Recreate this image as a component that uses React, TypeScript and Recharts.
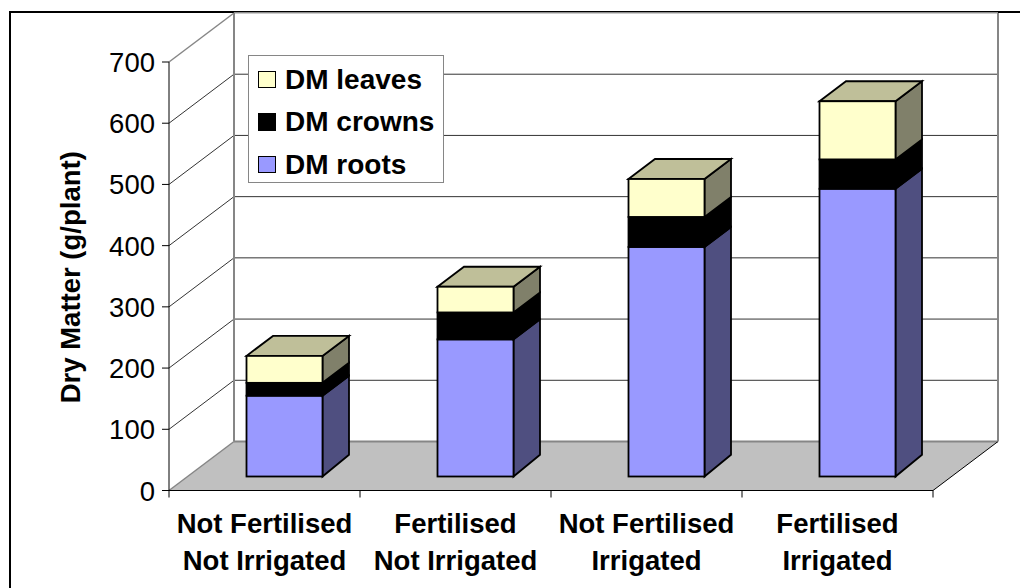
import React from 'react';
import { BarChart, Bar, XAxis, YAxis, CartesianGrid, Legend } from 'recharts';

const fertiliserLabels = ['Not Fertilised', 'Fertilised', 'Not Fertilised', 'Fertilised'];
const irrigationLabels = ['Not Irrigated', 'Not Irrigated', 'Irrigated', 'Irrigated'];
const dmRoots = [132, 224, 375, 470];
const dmCrowns = [21, 44, 49, 48];
const dmLeaves = [44, 42, 62, 95];
const yTicks = [0, 100, 200, 300, 400, 500, 600, 700];

const data = fertiliserLabels.map((f, i) => ({
  key: `${f}|${irrigationLabels[i]}`,
  fert: f,
  irr: irrigationLabels[i],
  roots: dmRoots[i],
  crowns: dmCrowns[i],
  leaves: dmLeaves[i],
}));

const FONT = '"Liberation Sans", Arial, sans-serif';
const FS = 27.5;
// projection of the chart's depth
const WALL_DX = 65;
const WALL_DY = 49;
const BAR_DX = 19.5;
const BAR_DY = 14;
const DEPTH_DX = 26.5;
const DEPTH_DY = 20;
const BASE_DEPTH_DY = 21.7;
const GRAY = '#868686';
const GRID = '#333333';
const M = { top: 62, right: 87, bottom: 0, left: 0 };
const W = 1020;
const H = 588;
const HALF_BAND = 95.5;

function GridLine(props: any) {
  const { x1, x2, y1, index } = props;
  const isBottom = Math.abs(y1 - 490.5) < 1;
  const isTop = Math.abs(y1 - M.top) < 1;
  const bx1 = x1 + WALL_DX;
  const bx2 = x2 + WALL_DX;
  const by = y1 - WALL_DY;
  if (isBottom) {
    return (
      <g key={`g${index}`}>
        <polygon points={`${x1},${y1} ${bx1},${by} ${bx2},${by} ${x2},${y1}`} fill="#C0C0C0" stroke="none" />
        <line x1={x1} y1={y1} x2={bx1} y2={by} stroke={GRAY} strokeWidth={1.5} />
        <line x1={bx1} y1={by} x2={bx2} y2={by} stroke={GRAY} strokeWidth={2} />
        <line x1={x2} y1={y1} x2={bx2} y2={by} stroke="#000" strokeWidth={1} />
      </g>
    );
  }
  if (isTop) {
    const floorY = 490.5 - WALL_DY;
    return (
      <g key={`g${index}`}>
        <line x1={x1} y1={y1} x2={bx1} y2={by} stroke={GRAY} strokeWidth={1.5} />
        <line x1={bx1} y1={by} x2={bx2} y2={by} stroke="#BBBBBB" strokeWidth={1.5} />
        <line x1={bx1} y1={by} x2={bx1} y2={floorY} stroke={GRAY} strokeWidth={2} />
        <line x1={bx2} y1={by} x2={bx2} y2={floorY} stroke={GRAY} strokeWidth={2} />
      </g>
    );
  }
  return (
    <g key={`g${index}`}>
      <polyline points={`${x1},${y1} ${bx1},${by} ${bx2},${by}`} fill="none" stroke={GRID} strokeWidth={1} />
    </g>
  );
}

const makeBox = (front: string, side: string, top?: string, base?: boolean) => (props: any) => {
  const { x, y, width, height } = props;
  const fx = x + BAR_DX;
  const fy = y - BAR_DY;
  const r = fx + width;
  const b = fy + height;
  const baseDy = base ? BASE_DEPTH_DY : DEPTH_DY;
  return (
    <g stroke="#000" strokeWidth={1.8} strokeLinejoin="miter">
      <polygon points={`${r},${fy} ${r + DEPTH_DX},${fy - DEPTH_DY} ${r + DEPTH_DX},${b - baseDy} ${r},${b}`} fill={side} />
      {top && (
        <polygon points={`${fx},${fy} ${fx + DEPTH_DX},${fy - DEPTH_DY} ${r + DEPTH_DX},${fy - DEPTH_DY} ${r},${fy}`} fill={top} />
      )}
      <rect x={fx} y={fy} width={width} height={height} fill={front} />
    </g>
  );
};

function CategoryTick(props: any) {
  const { x, y, payload, index } = props;
  const row = data.find((d) => d.key === payload.value)!;
  return (
    <g>
      <line x1={x - HALF_BAND} x2={x - HALF_BAND} y1={y} y2={y + 7} stroke="#000" />
      {index === data.length - 1 && <line x1={x + HALF_BAND} x2={x + HALF_BAND} y1={y} y2={y + 7} stroke="#000" />}
      <text x={x} y={y + 42} textAnchor="middle" fontFamily={FONT} fontSize={FS} fontWeight="bold" fill="#000">
        {row.fert}
      </text>
      <text x={x} y={y + 79} textAnchor="middle" fontFamily={FONT} fontSize={FS} fontWeight="bold" fill="#000">
        {row.irr}
      </text>
    </g>
  );
}

function ValueTick(props: any) {
  const { x, y, payload } = props;
  return (
    <text x={x} y={y + 10} textAnchor="end" fontFamily={FONT} fontSize={FS} fill="#000">
      {payload.value}
    </text>
  );
}

function LegendBox(props: any) {
  const items = [...(props.payload || [])].reverse();
  return (
    <div style={{ width: 194, height: 126, background: '#fff', border: `1.5px solid ${GRAY}`, boxSizing: 'content-box', fontFamily: FONT, fontSize: 28, fontWeight: 'bold', color: '#000', position: 'relative' }}>
      {items.map((it: any, i: number) => (
        <div key={it.value} style={{ position: 'absolute', left: 9, top: 14.5 + i * 42.5, height: 18, display: 'flex', alignItems: 'center', whiteSpace: 'nowrap' }}>
          <span style={{ display: 'inline-block', width: 15.5, height: 15.5, background: it.color, border: '1.2px solid #000', marginRight: 9.5 }} />
          <span>{it.value}</span>
        </div>
      ))}
    </div>
  );
}

export default function App() {
  return (
    <div style={{ position: 'absolute', left: 0, top: 0, width: W, height: H, overflow: 'hidden', background: '#fff' }}>
      <div style={{ position: 'absolute', left: 9, top: 11, right: 0, bottom: 0, borderTop: '2px solid #000', borderLeft: '2px solid #000' }} />
      <BarChart width={W} height={H} data={data} margin={M} barCategoryGap={0} style={{ position: 'absolute', left: 0, top: 0 }}>
        <CartesianGrid vertical={false} horizontal={(p: any) => <GridLine {...p} />} />
        <XAxis
          dataKey="key"
          height={97.5}
          tick={<CategoryTick />}
          tickLine={false}
          tickSize={0}
          tickMargin={0}
          interval={0}
          axisLine={{ stroke: '#000', strokeWidth: 1 }}
        />
        <YAxis
          width={169}
          domain={[0, 700]}
          ticks={yTicks}
          interval={0}
          tickSize={7}
          tickMargin={7}
          tick={<ValueTick />}
          tickLine={{ stroke: '#000' }}
          axisLine={{ stroke: '#000', strokeWidth: 1 }}
          label={{ value: 'Dry Matter (g/plant)', angle: -90, position: 'insideLeft', offset: 0, dx: 70.5, dy: 1, style: { fontFamily: FONT, fontSize: FS, fontWeight: 'bold', fill: '#000', textAnchor: 'middle' } }}
        />
        <Legend
          layout="vertical"
          align="center"
          verticalAlign="middle"
          itemSorter={null}
          content={<LegendBox />}
          wrapperStyle={{ left: 248, top: 55, width: 197, height: 129, margin: 0 }}
        />
        <Bar dataKey="roots" name="DM roots" stackId="a" fill="#9999FF" barSize={76} isAnimationActive={false} shape={makeBox('#9999FF', '#4F4F80', undefined, true)} />
        <Bar dataKey="crowns" name="DM crowns" stackId="a" fill="#000000" barSize={76} isAnimationActive={false} shape={makeBox('#000000', '#000000')} />
        <Bar dataKey="leaves" name="DM leaves" stackId="a" fill="#FFFFCC" barSize={76} isAnimationActive={false} shape={makeBox('#FFFFCC', '#80806A', '#BFBF99')} />
      </BarChart>
    </div>
  );
}
